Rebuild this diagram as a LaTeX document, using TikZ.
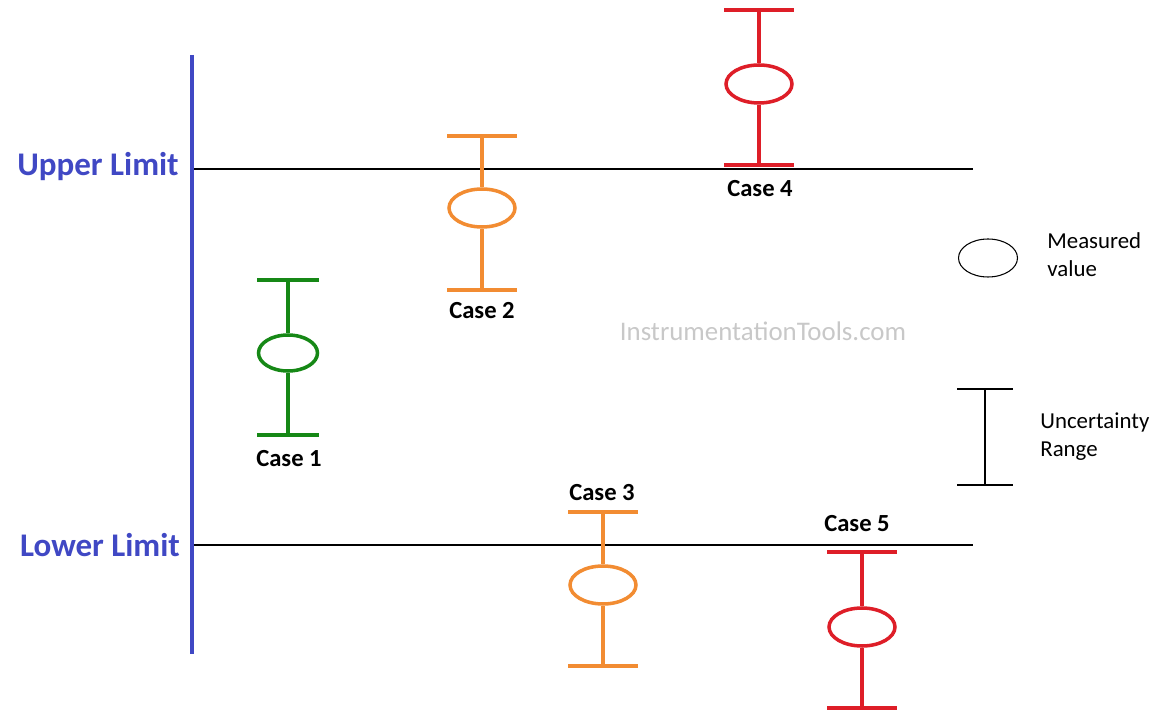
\documentclass[tikz,border=0pt]{standalone}
\usepackage{fontspec}
\setmainfont{Carlito}
\usepackage{tikz}
\usetikzlibrary{positioning,shapes.geometric}

\definecolor{limitblue}{RGB}{64,72,196}
\definecolor{okgreen}{RGB}{22,136,22}
\definecolor{warnorange}{RGB}{242,140,50}
\definecolor{badred}{RGB}{222,30,40}
\definecolor{wmgray}{RGB}{200,200,200}

\begin{document}
\begin{tikzpicture}[
  x=0.02cm, y=-0.02cm,
  bar/.style={line width=2pt},
  val/.style={draw, ellipse, line width=2pt, minimum width=1.32cm, minimum height=0.76cm, inner sep=0pt},
  caselbl/.style={font=\bfseries\fontsize{14}{16}\selectfont},
  limitlbl/.style={font=\bfseries\fontsize{18.8}{20}\selectfont, text=limitblue},
  legtxt/.style={font=\fontsize{13}{16}\selectfont, align=left, anchor=west, inner sep=0pt}
]
\useasboundingbox (0,0) rectangle (1166,719);

% limits
\coordinate (axtop) at (192,55);
\coordinate (axbot) at (192,654);
\coordinate (upL) at (193,169);
\coordinate (upR) at (973,169);
\coordinate (loL) at (193,545);
\coordinate (loR) at (973,545);
\draw[line width=0.6pt] (upL) -- (upR);
\draw[line width=0.6pt] (loL) -- (loR);
\draw[limitblue, line width=2.6pt] (axtop) -- (axbot);
\node[limitlbl] (uplbl) at (98,167) {Upper Limit};
\node[limitlbl] (lolbl) at (100,545) {Lower Limit};

% case 1
\coordinate (c1top) at (288,280);
\coordinate (c1bot) at (288,435);
\node[val, okgreen, minimum width=1.18cm, minimum height=0.72cm] (c1val) at (288,353) {};
\draw[bar, okgreen] (c1top) -- (c1val) -- (c1bot);
\draw[bar, okgreen] (c1top) ++(-31,0) -- ++(62,0);
\draw[bar, okgreen] (c1bot) ++(-31,0) -- ++(62,0);
\node[caselbl] (c1lbl) at (289,459) {Case 1};

% case 2
\coordinate (c2top) at (482,136);
\coordinate (c2bot) at (482,290);
\node[val, warnorange] (c2val) at (482,208) {};
\draw[bar, warnorange] (c2top) -- (c2val) -- (c2bot);
\draw[bar, warnorange] (c2top) ++(-35,0) -- ++(70,0);
\draw[bar, warnorange] (c2bot) ++(-35,0) -- ++(70,0);
\node[caselbl] (c2lbl) at (482,311) {Case 2};

% case 3
\coordinate (c3top) at (603,512);
\coordinate (c3bot) at (603,666);
\node[val, warnorange] (c3val) at (603,585) {};
\draw[bar, warnorange] (c3top) -- (c3val) -- (c3bot);
\draw[bar, warnorange] (c3top) ++(-35,0) -- ++(70,0);
\draw[bar, warnorange] (c3bot) ++(-35,0) -- ++(70,0);
\node[caselbl] (c3lbl) at (602,493) {Case 3};

% case 4
\coordinate (c4top) at (759,10);
\coordinate (c4bot) at (759,165);
\node[val, badred] (c4val) at (759,84) {};
\draw[bar, badred] (c4top) -- (c4val) -- (c4bot);
\draw[bar, badred] (c4top) ++(-35,0) -- ++(70,0);
\draw[bar, badred] (c4bot) ++(-35,0) -- ++(70,0);
\node[caselbl] (c4lbl) at (760,189) {Case 4};

% case 5
\coordinate (c5top) at (862,552);
\coordinate (c5bot) at (862,708);
\node[val, badred] (c5val) at (862,627) {};
\draw[bar, badred] (c5top) -- (c5val) -- (c5bot);
\draw[bar, badred] (c5top) ++(-35,0) -- ++(70,0);
\draw[bar, badred] (c5bot) ++(-35,0) -- ++(70,0);
\node[caselbl] (c5lbl) at (857,524) {Case 5};

% legend
\node[draw, ellipse, line width=0.6pt, minimum width=1.18cm, minimum height=0.76cm, inner sep=0pt] (legval) at (988,258) {};
\node[legtxt] (legvaltxt) at (1047,255) {Measured\\value};
\coordinate (legtop) at (985,389);
\coordinate (legbot) at (985,485);
\draw[line width=0.6pt] (legtop) -- (legbot);
\draw[line width=0.6pt] (legtop) ++(-28,0) -- ++(56,0);
\draw[line width=0.6pt] (legbot) ++(-28,0) -- ++(56,0);
\node[legtxt] (legbartxt) at (1040,437) {Uncertainty\\Range};

% watermark
\node[text=wmgray, font=\fontsize{15.3}{18}\selectfont] (wm) at (763,331) {InstrumentationTools.com};
\end{tikzpicture}
\end{document}
